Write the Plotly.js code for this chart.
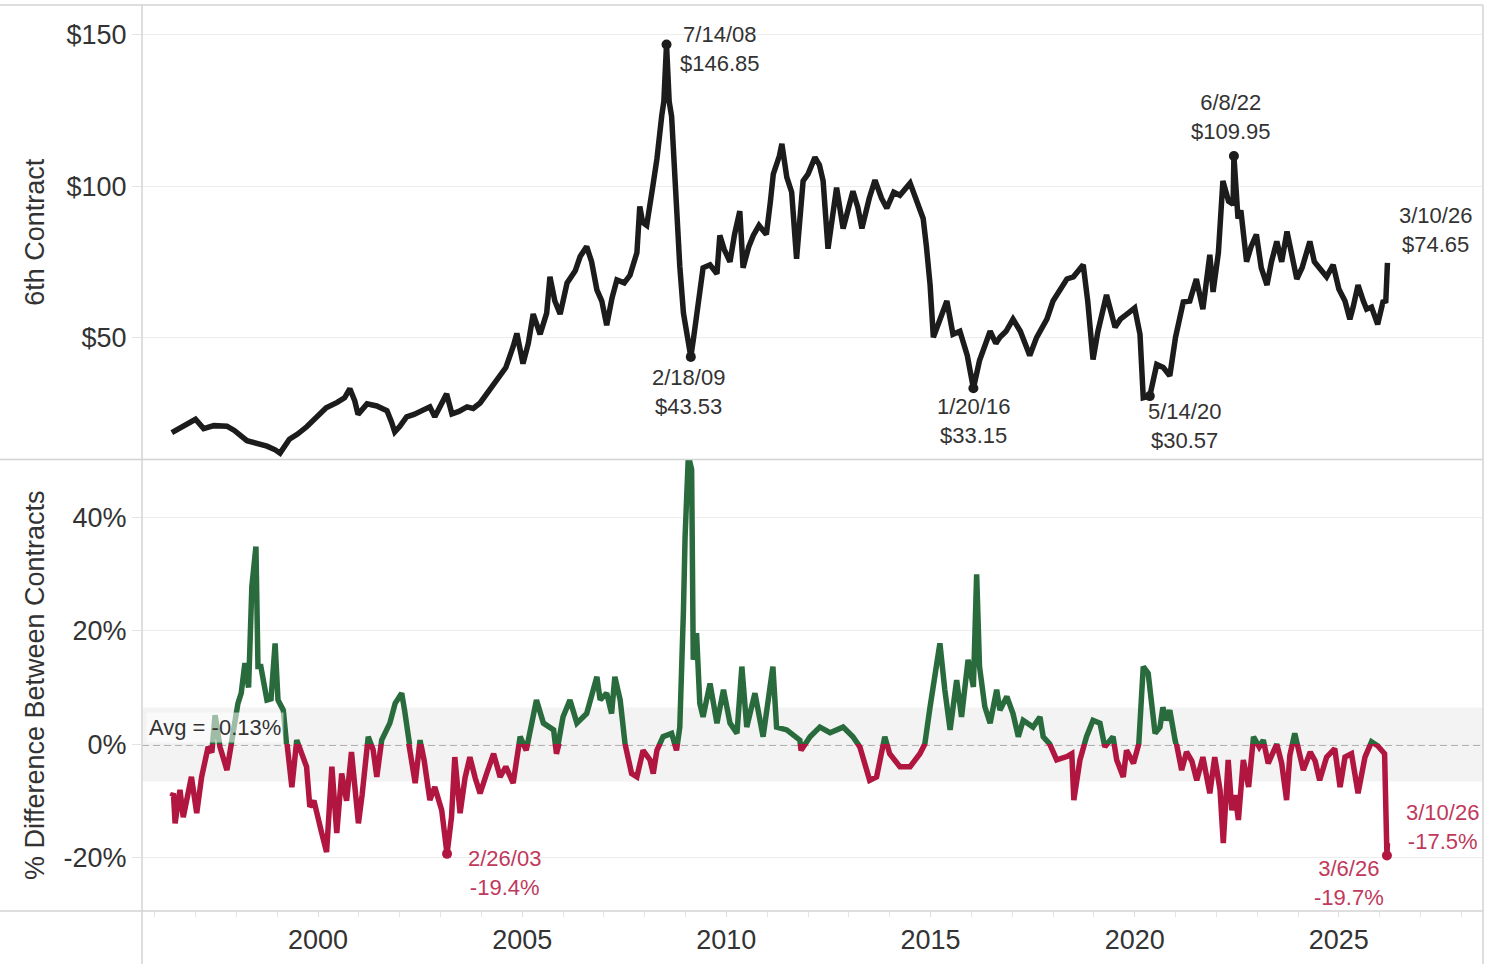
<!DOCTYPE html>
<html><head><meta charset="utf-8">
<script src="https://cdn.plot.ly/plotly-3.0.1.min.js"></script>
<style>html,body{margin:0;padding:0;background:#fff}#chart{width:1497px;height:964px}</style>
</head><body><div id="chart"></div>
<script>
// ---------------- DATA ----------------
const priceYears = [1996.42,1996.6,1996.87,1997.0,1997.2,1997.45,1997.77,1997.95,1998.26,1998.5,1998.75,1998.95,1999.07,1999.3,1999.5,1999.73,2000.0,2000.2,2000.47,2000.65,2000.78,2000.9,2000.98,2001.2,2001.44,2001.6,2001.69,2001.8,2001.88,2002.0,2002.17,2002.35,2002.5,2002.74,2002.86,2003.0,2003.15,2003.28,2003.45,2003.65,2003.8,2003.97,2004.2,2004.45,2004.6,2004.78,2004.87,2005.02,2005.15,2005.27,2005.44,2005.6,2005.68,2005.8,2005.93,2006.1,2006.3,2006.42,2006.58,2006.7,2006.83,2006.95,2007.07,2007.2,2007.32,2007.5,2007.64,2007.81,2007.88,2007.95,2008.05,2008.2,2008.3,2008.42,2008.47,2008.535,2008.6,2008.66,2008.75,2008.86,2008.95,2009.03,2009.1,2009.13,2009.2,2009.28,2009.43,2009.6,2009.77,2009.84,2009.95,2010.09,2010.2,2010.33,2010.41,2010.55,2010.66,2010.8,2010.98,2011.08,2011.15,2011.3,2011.36,2011.48,2011.6,2011.72,2011.8,2011.88,2012.0,2012.17,2012.28,2012.37,2012.49,2012.6,2012.7,2012.86,2013.0,2013.1,2013.22,2013.32,2013.5,2013.64,2013.8,2013.93,2014.1,2014.25,2014.5,2014.65,2014.82,2014.9,2014.99,2015.07,2015.2,2015.4,2015.55,2015.72,2015.9,2016.05,2016.2,2016.35,2016.46,2016.6,2016.7,2016.85,2017.02,2017.2,2017.43,2017.6,2017.85,2018.0,2018.2,2018.34,2018.5,2018.74,2018.85,2018.98,2019.1,2019.31,2019.52,2019.65,2019.81,2020.0,2020.13,2020.21,2020.37,2020.54,2020.7,2020.86,2021.0,2021.19,2021.35,2021.51,2021.67,2021.84,2021.92,2022.05,2022.16,2022.3,2022.41,2022.43,2022.53,2022.6,2022.74,2022.85,2022.98,2023.1,2023.24,2023.35,2023.48,2023.6,2023.73,2023.85,2023.97,2024.1,2024.29,2024.4,2024.53,2024.7,2024.86,2025.0,2025.15,2025.27,2025.35,2025.47,2025.6,2025.68,2025.8,2025.95,2026.08,2026.15,2026.19];
const priceValues = [18.5,20,22.3,22.9,19.8,20.8,20.6,19.2,15.8,15,14,12.8,11.7,16.3,18,20.5,24,26.7,28.5,30,33,29,24.5,28,27.3,26.5,25.7,22,18.7,20.5,23.7,24.5,25.3,27,23.7,27,31.3,24.7,25.5,27,26.5,28.3,32.7,37,40,47,51.3,41.3,48,57.7,51,58,70,62,57.7,68,72,76.7,80,75,65.7,62,54,63,69,68,70.5,78,93.3,88,87,100,109,123.5,128,146.85,128,123,100,73.5,58,51.3,46,43.53,50,59,73,74,71,83.7,79,75,84,91.7,73,80,83.7,87,84,95,104,110,114,103,98,76,88,101.7,104,109.5,107,101.7,79.3,90,99.5,86,93,98.3,93,86,96,102,96,92.7,98,97,101,96,89.3,80,67.3,50,55,62,51,52,44,33.15,42.3,48,52,48,50,52,56,52,44,50,56,62,66,69.3,70,74,62,42.7,52,64,53.3,56,57.7,59.7,51,30,30.57,41,40,37.3,50,61.7,62,69.3,59.3,77.3,65,78,101.7,95,94,109.95,89.3,92,75,80,84,73,67.3,75,81.7,75,85,78,69.3,73,81.7,75,72.7,70,74,66,62,56,60,67.3,62,59.3,60,54.3,61.7,62,74.65];

const spreadYears = [1996.42,1996.46,1996.5,1996.56,1996.62,1996.7,1996.8,1996.9,1997.03,1997.15,1997.31,1997.4,1997.48,1997.6,1997.77,1997.88,1998.04,1998.12,1998.21,1998.3,1998.38,1998.48,1998.53,1998.6,1998.68,1998.75,1998.85,1998.95,1999.02,1999.15,1999.23,1999.36,1999.48,1999.6,1999.72,1999.8,1999.9,2000.09,2000.21,2000.34,2000.46,2000.58,2000.7,2000.82,2000.95,2000.99,2001.08,2001.15,2001.23,2001.35,2001.44,2001.56,2001.76,2001.89,2002.05,2002.12,2002.21,2002.38,2002.5,2002.6,2002.74,2002.86,2003.03,2003.16,2003.27,2003.35,2003.48,2003.6,2003.72,2003.85,2003.97,2004.13,2004.3,2004.46,2004.6,2004.78,2004.95,2005.1,2005.35,2005.52,2005.77,2005.84,2006.0,2006.17,2006.34,2006.58,2006.83,2006.91,2007.07,2007.19,2007.27,2007.4,2007.52,2007.68,2007.81,2007.96,2008.13,2008.21,2008.3,2008.45,2008.66,2008.78,2008.86,2008.95,2008.99,2009.07,2009.15,2009.19,2009.27,2009.35,2009.43,2009.6,2009.77,2009.93,2010.09,2010.26,2010.38,2010.5,2010.7,2010.9,2011.14,2011.23,2011.48,2011.8,2011.83,2012.05,2012.29,2012.54,2012.86,2013.1,2013.27,2013.51,2013.68,2013.88,2014.0,2014.25,2014.5,2014.74,2014.86,2014.99,2015.11,2015.23,2015.35,2015.48,2015.64,2015.76,2015.92,2016.05,2016.13,2016.2,2016.33,2016.46,2016.62,2016.7,2016.87,2017.02,2017.15,2017.27,2017.51,2017.68,2017.76,2017.92,2018.09,2018.34,2018.46,2018.51,2018.66,2018.82,2018.98,2019.15,2019.27,2019.4,2019.47,2019.56,2019.72,2019.8,2019.97,2020.1,2020.21,2020.33,2020.5,2020.62,2020.69,2020.78,2020.86,2020.99,2021.15,2021.27,2021.4,2021.52,2021.67,2021.84,2021.96,2022.09,2022.17,2022.29,2022.38,2022.46,2022.54,2022.66,2022.79,2022.91,2023.05,2023.15,2023.27,2023.48,2023.6,2023.72,2023.8,2023.92,2024.02,2024.13,2024.3,2024.42,2024.53,2024.7,2024.9,2025.03,2025.15,2025.31,2025.47,2025.64,2025.8,2025.95,2026.12,2026.177,2026.19];
const spreadValues = [-9.3,-8.7,-14,-10,-8.1,-12.9,-9,-5.8,-12.2,-5.8,-0.5,-1.5,5.1,-0.5,-4.6,0,7.2,9,14.3,10,27.8,34.9,13.7,13.7,10,7.8,8,17.8,7.8,6,0,-7.6,0.7,-2,-4,-11.1,-10,-15.7,-19.1,-4,-15.7,-5.2,-10,-1.4,-13.4,-14,-9,-4.6,1.3,-1,-5.8,0.7,3.7,7.2,9,6,0.7,-6.9,0.7,-2.9,-9.9,-7.6,-11.7,-19.4,-12.9,-2.3,-12.2,-6,-2.3,-6,-8.7,-5.2,-1.7,-5.8,-4,-6.9,1.3,-1.1,7.8,3.7,2.5,-1.7,4.8,7.8,3.7,5.4,11.9,7.8,9,5.4,11.9,7.8,0,-5.2,-5.8,-1.1,-2.8,-5.2,-1.1,1.3,1.9,-1.1,3,23.7,36.7,51,48.5,14.9,19.6,7.2,4.8,10.7,3.7,9.6,3.7,1.9,13.7,3,9,1.3,13.7,3,2.5,0.7,-1.1,1.3,3,2,3,1.3,-0.5,-6.4,-5.8,1.3,-1.7,-4,-4,-1.7,0,6.6,12.5,17.8,9.6,2.5,11.3,4.8,14.9,10.1,30,13.7,6.6,3.7,9.6,6,8.4,5.4,1.3,4.2,3,4.8,1.3,0,-2.8,-2.2,-1.7,-9.9,-2.8,1.3,4.2,3.7,-0.5,0.7,1.3,-2.8,-5.8,-1.1,-3.4,0,13.7,12.5,1.9,3,6.5,4.2,6,0.7,-4.6,-1.4,-3,-6.4,-2.3,-8.7,-2.3,-8.1,-17.5,-2.8,-11.7,-9,-13.4,-2.8,-7.6,1.3,-0.5,0.7,-3.4,0,-3.4,-9.9,-2,1.9,-1,-4.6,-1.4,-3,-6.4,-2.3,-0.8,-7.6,-2.3,-1.7,-8.7,-2.3,0.4,-0.3,-1.7,-19.7,-17.5];

const priceMarkDates = ['7/14/08','2/18/09','1/20/16','5/14/20','6/8/22','3/10/26'];
const priceMarkYears = [2008.535,2009.13,2016.05,2020.37,2022.43,2026.19];
const priceMarkValues = [146.85,43.53,33.15,30.57,109.95,74.65];

const spreadMarkDates = ['2/26/03','3/6/26','3/10/26'];
const spreadMarkYears = [2003.16,2026.177,2026.19];
const spreadMarkValues = [-19.4,-19.7,-17.5];

const spreadAvg = -0.13;
const bandLow = -6.6, bandHigh = 6.45;

const priceTickVals = [50,100,150];
const priceTickText = ['$50','$100','$150'];
const spreadTickVals = [-20,0,20,40];
const spreadTickText = ['-20%','0%','20%','40%'];
const yearTickVals = [2000,2005,2010,2015,2020,2025];

// ---------------- STYLE / GEOMETRY ----------------
const W = 1497, H = 964;
const M = {l:142, r:14, t:5, b:53, pad:0};
const PW = W - M.l - M.r, PH = H - M.t - M.b;
const xRange = [1995.69, 2028.53];
const priceRange = [9.6, 159.9];
const spreadRange = [-29.5, 50.3];
const splitPx = 459.5;
const topDomain = [(H - M.b - splitPx) / PH, 1];
const botDomain = [0, (H - M.b - splitPx) / PH];
const zeroFrac = botDomain[1] * (0 - spreadRange[0]) / (spreadRange[1] - spreadRange[0]);

const GREEN = '#2a6b3d', RED = '#b0163f', LABEL_RED = '#c0395c';
const FONT = 'Liberation Sans, Arial, sans-serif';
const TXT = '#333333';
const GRID = '#ededed', FRAME = '#d3d3d3';

const px2x = p => (p - M.l) / PW;
const px2y = p => (H - M.b - p) / PH;

const lineStyle = c => ({color:c, width:5.5, shape:'linear'});

const traces = [
  {x:priceYears, y:priceValues, xaxis:'x', yaxis:'y', mode:'lines', line:lineStyle('#1c1c1c'), hoverinfo:'x+y'},
  {x:priceMarkYears.slice(0,5), y:priceMarkValues.slice(0,5), xaxis:'x', yaxis:'y', mode:'markers',
   marker:{color:'#1c1c1c', size:10}, cliponaxis:false, hoverinfo:'skip'},
  {x:[], y:[], xaxis:'x', yaxis:'y2', mode:'lines', hoverinfo:'skip'},
  // same series drawn twice, each clipped by its own half-panel (above / below zero)
  {x:spreadYears, y:spreadValues, xaxis:'x', yaxis:'y3', mode:'lines', line:lineStyle(GREEN), hoverinfo:'x+y'},
  {x:spreadYears, y:spreadValues, xaxis:'x', yaxis:'y4', mode:'lines', line:lineStyle(RED), hoverinfo:'x+y'},
  {x:spreadMarkYears.slice(0,2), y:spreadMarkValues.slice(0,2), xaxis:'x', yaxis:'y4', mode:'markers',
   marker:{color:RED, size:10}, cliponaxis:false, hoverinfo:'skip'}
];

const ann = [];
const topOffsets = [
  {xanchor:'left', yanchor:'middle', xshift:11, yshift:-5},
  {xanchor:'center', yanchor:'top', xshift:-2, yshift:-6},
  {xanchor:'center', yanchor:'top', xshift:0, yshift:-4},
  {xanchor:'left', yanchor:'top', xshift:-4, yshift:-1},
  {xanchor:'center', yanchor:'bottom', xshift:-3, yshift:10},
  {xanchor:'left', yanchor:'bottom', xshift:10, yshift:4}
];
priceMarkYears.forEach((yr, i) => {
  ann.push(Object.assign({
    x:yr, y:priceMarkValues[i], xref:'x', yref:'y', showarrow:false, align:'center',
    text: priceMarkDates[i] + '<br>$' + priceMarkValues[i].toFixed(2),
    font:{family:FONT, size:22, color:TXT}
  }, topOffsets[i]));
});
const botOffsets = [
  {xanchor:'left', yanchor:'middle', xshift:19, yshift:-19},
  {xanchor:'right', yanchor:'top', xshift:-1, yshift:2},
  {xanchor:'left', yanchor:'middle', xshift:17, yshift:16}
];
spreadMarkYears.forEach((yr, i) => {
  ann.push(Object.assign({
    x:yr, y:spreadMarkValues[i], xref:'x', yref:'y2', showarrow:false, align:'center',
    text: spreadMarkDates[i] + '<br>' + spreadMarkValues[i].toFixed(1) + '%',
    font:{family:FONT, size:22, color:LABEL_RED}
  }, botOffsets[i]));
});
ann.push({
  x:0, y:spreadAvg, xref:'paper', yref:'y2', xanchor:'left', yanchor:'middle', xshift:4, yshift:17,
  showarrow:false, text:'Avg = ' + spreadAvg.toFixed(2) + '%', bgcolor:'rgba(255,255,255,0.55)',
  borderpad:2, font:{family:FONT, size:22, color:TXT}
});

const frame = (x0,y0,x1,y1) => ({type:'line', xref:'paper', yref:'paper',
  x0:px2x(x0), y0:px2y(y0), x1:px2x(x1), y1:px2y(y1), line:{color:FRAME, width:1.5}, layer:'above'});

const shapes = [
  {type:'rect', xref:'paper', yref:'y2', x0:0, x1:1, y0:bandLow, y1:bandHigh,
   fillcolor:'#f3f3f3', line:{width:0}, layer:'below'},
  {type:'line', xref:'paper', yref:'y2', x0:0, x1:1, y0:spreadAvg, y1:spreadAvg,
   line:{color:'#9c9c9c', width:1.6, dash:'7px,4px'}, layer:'below'},
  frame(0, 5, 1483, 5),
  frame(0, splitPx, 1483, splitPx),
  frame(0, 911, 1483, 911),
  frame(142, 5, 142, H),
  frame(1483, 5, 1483, H)
];

const yCommon = {showline:false, zeroline:false, gridcolor:GRID, gridwidth:1,
  ticks:'outside', ticklen:9, tickcolor:'#e4e4e4', ticklabelstandoff:0,
  tickfont:{family:FONT, size:27, color:TXT}, fixedrange:true};

const layout = {
  width:W, height:H, margin:M, paper_bgcolor:'#ffffff', plot_bgcolor:'rgba(0,0,0,0)',
  showlegend:false, font:{family:FONT, color:TXT},
  xaxis:{range:xRange, anchor:'y2', showgrid:false, zeroline:false, showline:false,
    tickmode:'array', tickvals:yearTickVals, ticktext:yearTickVals.map(String),
    ticks:'outside', ticklen:5, tickcolor:'#dcdcdc', ticklabelstandoff:0,
    minor:{dtick:1, tick0:2000, ticks:'outside', ticklen:5, tickcolor:'#e4e4e4', showgrid:false},
    tickfont:{family:FONT, size:27, color:TXT}, fixedrange:true},
  yaxis:Object.assign({}, yCommon, {domain:topDomain, range:priceRange, anchor:'x',
    tickmode:'array', tickvals:priceTickVals, ticktext:priceTickText,
    title:{text:'6th Contract', font:{family:FONT, size:27, color:TXT}, standoff:14}}),
  yaxis2:Object.assign({}, yCommon, {domain:botDomain, range:spreadRange, anchor:'x',
    tickmode:'array', tickvals:spreadTickVals, ticktext:spreadTickText,
    title:{text:'% Difference Between Contracts', font:{family:FONT, size:27, color:TXT}, standoff:11}}),
  yaxis3:{domain:[zeroFrac, botDomain[1]], range:[0, spreadRange[1]], anchor:'x', visible:false, showgrid:false, fixedrange:true},
  yaxis4:{domain:[0, zeroFrac], range:[spreadRange[0], 0], anchor:'x', visible:false, showgrid:false, fixedrange:true},
  shapes:shapes,
  annotations:ann
};

Plotly.newPlot('chart', traces, layout, {displayModeBar:false});
</script>
</body></html>
